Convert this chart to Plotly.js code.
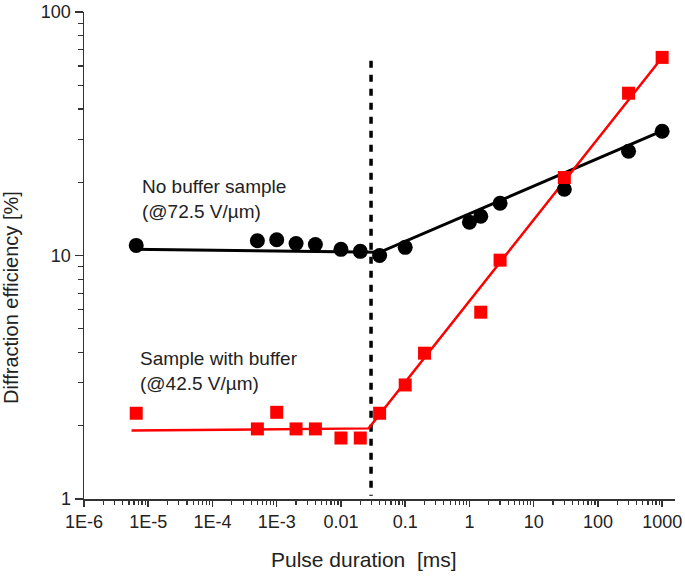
<!DOCTYPE html>
<html>
<head>
<meta charset="utf-8">
<script src="https://cdn.plot.ly/plotly-3.0.1.min.js"></script>
<style>html,body{margin:0;padding:0;background:#fff;}#chart{width:685px;height:578px;}</style>
</head>
<body>
<div id="chart"></div>
<script>
// No buffer sample (@72.5 V/µm)
const noBufX = [6.5e-6, 5e-4, 1e-3, 2e-3, 4e-3, 0.01, 0.02, 0.04, 0.1, 1, 1.5, 3, 30, 300, 1000];
const noBufY = [11.0, 11.5, 11.6, 11.2, 11.1, 10.6, 10.4, 10.0, 10.8, 13.7, 14.5, 16.4, 18.7, 26.8, 32.4];
// Sample with buffer (@42.5 V/µm)
const bufX = [6.5e-6, 5e-4, 1e-3, 2e-3, 4e-3, 0.01, 0.02, 0.04, 0.1, 0.2, 1.5, 3, 30, 300, 1000];
const bufY = [2.25, 1.94, 2.27, 1.94, 1.94, 1.78, 1.78, 2.25, 2.94, 3.97, 5.85, 9.57, 20.9, 46.4, 65.1];
// Fit lines
const noBufFitX = [5.5e-6, 0.04, 1000];
const noBufFitY = [10.6, 10.3, 32.5];
const bufFitX = [5.5e-6, 0.027, 1000];
const bufFitY = [1.91, 1.95, 65];
// Vertical dashed marker
const dashX = [0.0294, 0.0294];
const dashY = [63, 1.03];
// Tick labels
const xTickVals = [1e-6, 1e-5, 1e-4, 1e-3, 0.01, 0.1, 1, 10, 100, 1000];
const xTickText = ["1E-6", "1E-5", "1E-4", "1E-3", "0.01", "0.1", "1", "10", "100", "1000"];
const yTickVals = [1, 10, 100];
const yTickText = ["1", "10", "100"];
const xTitle = 'Pulse duration&nbsp; [ms]';
const yTitle = 'Diffraction efficiency [%]';

const font = "Liberation Sans, Arial, sans-serif";
const traces = [
  {x: dashX, y: dashY, mode: 'lines', line: {color: '#000', width: 3.5, dash: '7px,7px'}, hoverinfo: 'skip'},
  {x: noBufFitX, y: noBufFitY, mode: 'lines', line: {color: '#000', width: 3}},
  {x: bufFitX, y: bufFitY, mode: 'lines', line: {color: '#ff0000', width: 2.5}},
  {x: noBufX, y: noBufY, mode: 'markers', marker: {symbol: 'circle', size: 15, color: '#000'}},
  {x: bufX, y: bufY, mode: 'markers', marker: {symbol: 'square', size: 13, color: '#ff0000'}}
];
const layout = {
  width: 685, height: 578,
  margin: {l: 84, r: 10, t: 12, b: 79},
  showlegend: false,
  paper_bgcolor: '#fff', plot_bgcolor: '#fff',
  font: {family: font, size: 16, color: '#222'},
  xaxis: {
    type: 'log', range: [-6, 3.2],
    tickvals: xTickVals, ticktext: xTickText,
    ticks: 'outside', ticklen: 6, tickwidth: 1.5, tickcolor: '#333',
    minor: {ticks: 'outside', ticklen: 4, tickwidth: 1.2, tickcolor: '#333', dtick: 'D1', showgrid: false},
    showgrid: false, zeroline: false,
    showline: true, linecolor: '#333', linewidth: 1.5,
    tickfont: {size: 18, family: font, color: '#222'}
  },
  yaxis: {
    type: 'log', range: [0, 2],
    tickvals: yTickVals, ticktext: yTickText,
    ticks: 'outside', ticklen: 8, tickwidth: 1.5, tickcolor: '#333',
    minor: {ticks: 'outside', ticklen: 5, tickwidth: 1.2, tickcolor: '#333', dtick: 'D1', showgrid: false},
    showgrid: false, zeroline: false,
    showline: true, linecolor: '#333', linewidth: 1.5,
    tickfont: {size: 18, family: font, color: '#222'}
  },
  annotations: [
    {x: 0.474, y: -0.125, xref: 'paper', yref: 'paper', text: xTitle, showarrow: false,
     xanchor: 'center', yanchor: 'middle', font: {size: 21, family: font, color: '#222'}},
    {x: -0.1235, y: 0.413, xref: 'paper', yref: 'paper', text: yTitle, showarrow: false, textangle: -90,
     xanchor: 'center', yanchor: 'middle', font: {size: 20, family: font, color: '#222'}},
    {x: -5.13, y: 1.231, xref: 'x', yref: 'y', text: 'No buffer sample<br>(@72.5 V/µm)', showarrow: false,
     xanchor: 'left', yanchor: 'middle', align: 'left', font: {size: 19, family: font, color: '#222'}},
    {x: -5.16, y: 0.525, xref: 'x', yref: 'y', text: 'Sample with buffer<br>(@42.5 V/µm)', showarrow: false,
     xanchor: 'left', yanchor: 'middle', align: 'left', font: {size: 19, family: font, color: '#222'}}
  ]
};
Plotly.newPlot('chart', traces, layout, {displayModeBar: false, staticPlot: true});
</script>
</body>
</html>
